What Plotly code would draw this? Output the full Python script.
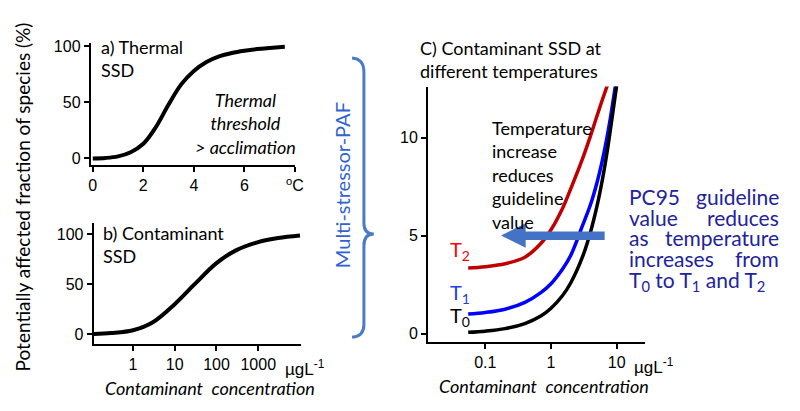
import plotly.graph_objects as go

W, H = 800, 411

# ---------------- data ----------------
# a) Thermal SSD
temp_c = [0, 0.5, 1, 1.5, 2, 2.5, 3, 3.5, 4, 4.5, 5, 5.5, 6, 6.5, 7, 7.6]
paf_thermal = [0, 0.4, 1.8, 5.5, 13, 28, 48, 66, 78, 86, 91, 94, 96, 97.5, 98.5, 99.5]
a_ticks = [0, 2, 4, 6, 8]
a_ticktext = ["0", "2", "4", "6", "<sup>o</sup>C"]

# b) Contaminant SSD
conc_b = [0.115, 0.3, 1, 3, 10, 30, 100, 300, 1000, 3000, 10000]
paf_contam = [0.3, 1.2, 4, 12, 30, 50, 71, 84, 92, 96, 98.5]
b_ticks = [1, 10, 100, 1000]
b_ticktext = ["1", "10", "100", "1000"]

# c) Contaminant SSD at different temperatures
conc_t0 = [0.055, 0.1, 0.2, 0.4, 0.7, 1, 1.5, 2, 3, 4, 5, 6, 7, 8, 10.2]
paf_t0 = [0.07, 0.13, 0.26, 0.52, 0.9, 1.3, 1.95, 2.6, 3.9, 5.2, 6.5, 7.8, 9.1, 10.4, 12.9]
conc_t1 = [0.055, 0.1, 0.2, 0.4, 0.7, 1, 1.5, 2, 3, 4, 5, 6, 7, 8, 9.8]
paf_t1 = [1.0, 1.08, 1.25, 1.6, 2.1, 2.55, 3.3, 4.0, 5.5, 6.6, 7.7, 8.8, 9.9, 11.0, 12.9]
conc_t2 = [0.055, 0.1, 0.2, 0.4, 0.7, 1, 1.5, 2, 3, 4, 5, 6, 7.6]
paf_t2 = [3.35, 3.42, 3.57, 3.9, 4.6, 5.3, 6.4, 7.4, 8.9, 10.1, 11.1, 11.9, 12.9]
c_xticks = [0.1, 1, 10]
c_xticktext = ["0.1", "1", "10"]
c_yticks = [0, 5, 10]

TXT = "Lato"
NUM = "Liberation Sans"

def px(x):
    return x / W

def py(y):
    return 1 - y / H

def P(x, y):
    return f"{px(x):.4f},{py(y):.4f}"

fig = go.Figure()
fig.add_trace(go.Scatter(x=temp_c, y=paf_thermal, mode="lines", line=dict(color="black", width=4, shape="spline"),
                         xaxis="x", yaxis="y", showlegend=False))
fig.add_trace(go.Scatter(x=conc_b, y=paf_contam, mode="lines", line=dict(color="black", width=4, shape="spline"),
                         xaxis="x2", yaxis="y2", showlegend=False))
fig.add_trace(go.Scatter(x=conc_t2, y=paf_t2, mode="lines", line=dict(color="#C00000", width=3.5, shape="spline"),
                         xaxis="x3", yaxis="y3", showlegend=False))
fig.add_trace(go.Scatter(x=conc_t1, y=paf_t1, mode="lines", line=dict(color="#0000FF", width=3.5, shape="spline"),
                         xaxis="x3", yaxis="y3", showlegend=False))
fig.add_trace(go.Scatter(x=conc_t0, y=paf_t0, mode="lines", line=dict(color="black", width=3.5, shape="spline"),
                         xaxis="x3", yaxis="y3", showlegend=False))

ax_common = dict(showline=True, linecolor="black", linewidth=2, ticks="outside", ticklen=5, tickwidth=2,
                 tickcolor="black", showgrid=False, zeroline=False, fixedrange=True,
                 tickfont=dict(family=NUM, size=16, color="black"))

fig.update_layout(
    width=W, height=H, margin=dict(l=0, r=0, t=0, b=0),
    paper_bgcolor="white", plot_bgcolor="white",
    xaxis=dict(ax_common, domain=[px(90), px(297)], range=[-0.08, 8.0], anchor="y",
               tickvals=a_ticks, ticktext=a_ticktext),
    yaxis=dict(ax_common, domain=[py(163), py(39)], range=[-6.1, 102.6], anchor="x",
               tickvals=[0, 50, 100]),
    xaxis2=dict(ax_common, type="log", domain=[px(93), px(303)], range=[-0.94, 4.02], anchor="y2",
                tickvals=b_ticks, ticktext=b_ticktext),
    yaxis2=dict(ax_common, domain=[py(345), py(222)], range=[-9.8, 110.8], anchor="x2",
                tickvals=[0, 50, 100]),
    xaxis3=dict(ax_common, type="log", domain=[px(432), px(652)], range=[-1.87, 1.43], anchor="y3",
                tickvals=c_xticks, ticktext=c_xticktext),
    yaxis3=dict(ax_common, domain=[py(343), py(83)], range=[-0.43, 12.6], anchor="x3",
                tickvals=c_yticks),
)

ann = []

def add_text(x, y, text, size=18, color="black", xanchor="left", yanchor="top", italic=False,
             angle=0, family=TXT, align="left"):
    ann.append(dict(x=px(x), y=py(y), xref="paper", yref="paper", text=text, showarrow=False,
                    xanchor=xanchor, yanchor=yanchor, textangle=angle, align=align,
                    font=dict(family=family, size=size, color=color,
                              style="italic" if italic else "normal")))

add_text(21, 195, "Potentially affected fraction of species (%)", size=19, xanchor="center",
         yanchor="middle", angle=-90)
add_text(98, 29, "a) Thermal<br>SSD", size=18)
add_text(247, 121, "Thermal<br>threshold<br>> acclimation", size=18, xanchor="center", yanchor="middle",
         italic=True, align="center")
add_text(100, 219, "b) Contaminant<br>SSD", size=18)
add_text(307, 369, "µgL<sup>-1</sup>", size=17, xanchor="center", yanchor="middle", family=NUM)
add_text(211, 390, "Contaminant  concentration", size=18, xanchor="center", yanchor="middle", italic=True)
add_text(345, 183, "Multi-stressor-PAF", size=20, color="#2F63D3", xanchor="center", yanchor="middle", angle=-90)
add_text(422, 31, "C) Contaminant SSD at<br>different temperatures", size=18)
add_text(495, 112, "Temperature<br>increase<br>reduces<br>guideline<br>value", size=18)
add_text(452, 250, "T<sub>2</sub>", size=20, color="#FF0000", yanchor="middle")
add_text(452, 293, "T<sub>1</sub>", size=20, color="#1F3FE0", yanchor="middle")
add_text(452, 317, "T<sub>0</sub>", size=20, color="black", yanchor="middle")
add_text(661, 367, "µgL<sup>-1</sup>", size=17, xanchor="center", yanchor="middle", family=NUM)
add_text(550, 388, "Contaminant  concentration", size=18, xanchor="center", yanchor="middle", italic=True)

NAVY = "#22229C"
lines = [("PC95", "guideline", 195), ("value", "reduces", 216), ("as", "temperature", 237),
         ("increases", "from", 258)]
for lw, rw, yy in lines:
    add_text(634, yy, lw, size=21, color=NAVY, yanchor="middle")
    add_text(790, yy, rw, size=21, color=NAVY, xanchor="right", yanchor="middle")
add_text(634, 281, "T<sub>0</sub> to T<sub>1</sub> and T<sub>2</sub>", size=21, color=NAVY, yanchor="middle")

fig.update_layout(annotations=ann)

# brace
brace = ("M " + P(355, 54) + " Q " + P(367, 55) + " " + P(367, 68) + " L " + P(367, 222) +
         " Q " + P(367, 233) + " " + P(377, 233) + " Q " + P(367, 233) + " " + P(367, 245) +
         " L " + P(367, 325) + " Q " + P(367, 337) + " " + P(355, 338))
shapes = [dict(type="path", xref="paper", yref="paper", path=brace, line=dict(color="#4A7BC8", width=3))]
arrow = ("M " + P(506, 234.5) + " L " + P(531, 222) + " L " + P(531, 230.5) + " L " + P(611, 230.5) +
         " L " + P(611, 239) + " L " + P(531, 239) + " L " + P(531, 247) + " Z")
shapes.append(dict(type="path", xref="paper", yref="paper", path=arrow, fillcolor="#4472C4",
                   line=dict(width=0)))
fig.update_layout(shapes=shapes)

fig.write_html("out.html")
